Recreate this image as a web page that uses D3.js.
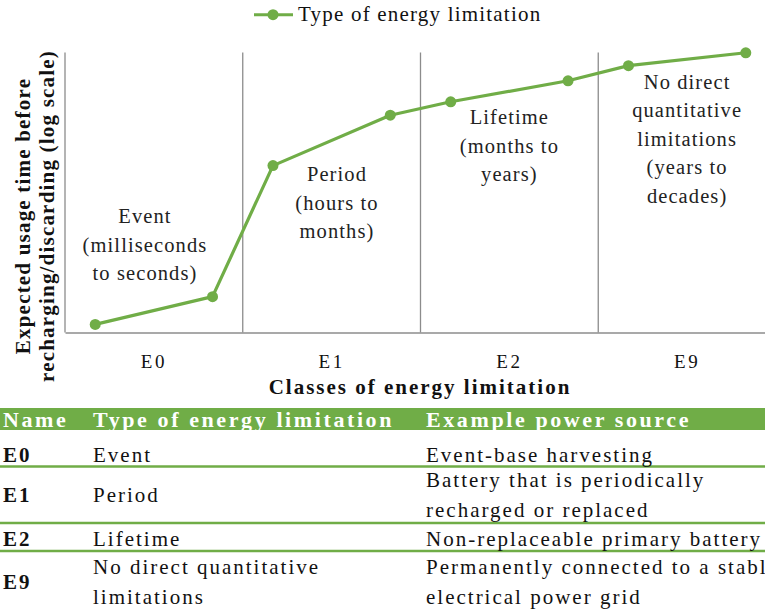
<!DOCTYPE html>
<html>
<head>
<meta charset="utf-8">
<script src="https://cdn.jsdelivr.net/npm/d3@7"></script>
<style>
  body { margin: 0; background: #fff; }
  svg { display: block; }
</style>
</head>
<body>
<div id="chart"></div>
<script>
// classes of energy limitation (x axis bands)
var classes = ['E0', 'E1', 'E2', 'E9'];
// series: position along the class axis and expected usage time (log units, arbitrary)
var seriesName = 'Type of energy limitation';
var pointPos = [0.17, 0.83, 1.17, 1.83, 2.17, 2.83, 3.17, 3.83];
var pointVal = [0.29, 1.28, 5.96, 7.76, 8.24, 8.99, 9.53, 9.99];
// annotation text per class
var notes = [
  ['Event', '(milliseconds', 'to seconds)'],
  ['Period', '(hours to', 'months)'],
  ['Lifetime', '(months to', 'years)'],
  ['No direct', 'quantitative', 'limitations', '(years to', 'decades)']
];
// table
var tableHead = ['Name', 'Type of energy limitation', 'Example power source'];
var tableNames = ['E0', 'E1', 'E2', 'E9'];
var tableTypes = [['Event'], ['Period'], ['Lifetime'], ['No direct quantitative', 'limitations']];
var tableSources = [
  ['Event-base harvesting'],
  ['Battery that is periodically', 'recharged or replaced'],
  ['Non-replaceable primary battery'],
  ['Permanently connected to a stable', 'electrical power grid']
];

var green = '#70ad47';
var grey = '#8c8c8c';
var font = '"Liberation Serif", "Noto Serif", serif';
var width = 765, height = 611;
var plot = { left: 65, right: 776, top: 52.5, bottom: 332.5 };

var svg = d3.select('#chart').append('svg')
  .attr('width', width)
  .attr('height', height)
  .style('font-family', font);

// every text gets the serif font inline
function txt(sel, size, weight, spacing) {
  return sel.style('font-family', font)
    .style('font-size', size + 'px')
    .style('font-weight', weight || 'normal')
    .style('letter-spacing', (spacing || 0) + 'px');
}

// scales
var xBand = d3.scaleBand().domain(classes).range([plot.left, plot.right]);
var x = d3.scaleLinear().domain([0, classes.length]).range([plot.left, plot.right]);
var y = d3.scaleLinear().domain([0, 10]).range([plot.bottom, plot.top]);

// legend
var legend = svg.append('g').attr('transform', 'translate(254,14.7)');
legend.append('line')
  .attr('x1', 0).attr('x2', 39)
  .attr('stroke', green).attr('stroke-width', 3);
legend.append('circle')
  .attr('cx', 19).attr('r', 5.5).attr('fill', green);
txt(legend.append('text'), 21, 'normal', 1.2)
  .attr('x', 44).attr('y', 6)
  .attr('fill', '#111')
  .text(seriesName);

// class separators
svg.selectAll('.sep')
  .data(classes.slice(1))
  .enter().append('line')
  .attr('class', 'sep')
  .attr('x1', d => xBand(d)).attr('x2', d => xBand(d))
  .attr('y1', plot.top).attr('y2', plot.bottom)
  .attr('stroke', grey).attr('stroke-width', 1.3);

// axes
var xAxis = svg.append('g')
  .attr('transform', 'translate(0,' + plot.bottom + ')')
  .call(d3.axisBottom(xBand).tickSize(0).tickPadding(22));
xAxis.select('.domain').attr('stroke', grey).attr('stroke-width', 1.3);
txt(xAxis.selectAll('text'), 19, 'normal', 2.5)
  .attr('fill', '#111');

svg.append('line')
  .attr('x1', plot.left).attr('x2', plot.left)
  .attr('y1', plot.top).attr('y2', plot.bottom)
  .attr('stroke', grey).attr('stroke-width', 1.3);

// axis titles
txt(svg.append('text'), 21, 'bold', 2)
  .attr('x', 420).attr('y', 393.5)
  .attr('text-anchor', 'middle')
  .attr('fill', '#111')
  .text('Classes of energy limitation');

var yTitle = txt(svg.append('text'), 21, 'bold', 1.2)
  .attr('transform', 'translate(0,216) rotate(-90)')
  .attr('text-anchor', 'middle')
  .attr('fill', '#111');
yTitle.append('tspan').attr('x', 0).attr('y', 30).text('Expected usage time before');
yTitle.append('tspan').attr('x', 0).attr('y', 54).text('recharging/discarding (log scale)');

// annotations: anchor along class axis and first baseline
var noteAnchor = [[0.45, 223], [1.53, 181], [2.5, 124], [3.5, 88.5]];
notes.forEach(function(lines, i) {
  var t = txt(svg.append('text'), 20.5, 'normal', 1.1)
    .attr('text-anchor', 'middle')
    .attr('fill', '#222');
  lines.forEach(function(s, j) {
    t.append('tspan')
      .attr('x', x(noteAnchor[i][0]))
      .attr('y', noteAnchor[i][1] + j * 28.5)
      .text(s);
  });
});

// series line and markers
var pts = pointPos.map((p, i) => ({ p: p, v: pointVal[i] }));
svg.append('path')
  .datum(pts)
  .attr('fill', 'none')
  .attr('stroke', green)
  .attr('stroke-width', 3.2)
  .attr('stroke-linejoin', 'round')
  .attr('d', d3.line().x(d => x(d.p)).y(d => y(d.v)));
svg.selectAll('.pt')
  .data(pts)
  .enter().append('circle')
  .attr('class', 'pt')
  .attr('cx', d => x(d.p))
  .attr('cy', d => y(d.v))
  .attr('r', 5.5)
  .attr('fill', green);

// table
var cols = [3, 93, 426];
svg.append('rect')
  .attr('x', 0).attr('y', 408)
  .attr('width', width).attr('height', 22)
  .attr('fill', green);
txt(svg.selectAll('.th')
  .data(tableHead)
  .enter().append('text')
  .attr('class', 'th'), 22, 'bold', 2.6)
  .attr('x', (d, i) => cols[i])
  .attr('y', 427)
  .attr('fill', '#fff')
  .text(d => d);

var rowMid = [455, 494.5, 538.5, 582];
var rowSep = [466.5, 523, 551];
svg.selectAll('.rsep')
  .data(rowSep)
  .enter().append('line')
  .attr('class', 'rsep')
  .attr('x1', 0).attr('x2', width)
  .attr('y1', d => d).attr('y2', d => d)
  .attr('stroke', green).attr('stroke-width', 2.5);

function cellLines(lines, xPos, mid, bold) {
  var n = lines.length;
  lines.forEach(function(s, j) {
    txt(svg.append('text'), 21, bold ? 'bold' : 'normal', 2)
      .attr('x', xPos)
      .attr('y', mid + 7 + (j - (n - 1) / 2) * 30)
      .attr('fill', '#111')
      .text(s);
  });
}
tableNames.forEach(function(name, i) {
  cellLines([name], cols[0], rowMid[i], true);
  cellLines(tableTypes[i], cols[1], rowMid[i], false);
  cellLines(tableSources[i], cols[2], rowMid[i], false);
});
</script>
</body>
</html>
